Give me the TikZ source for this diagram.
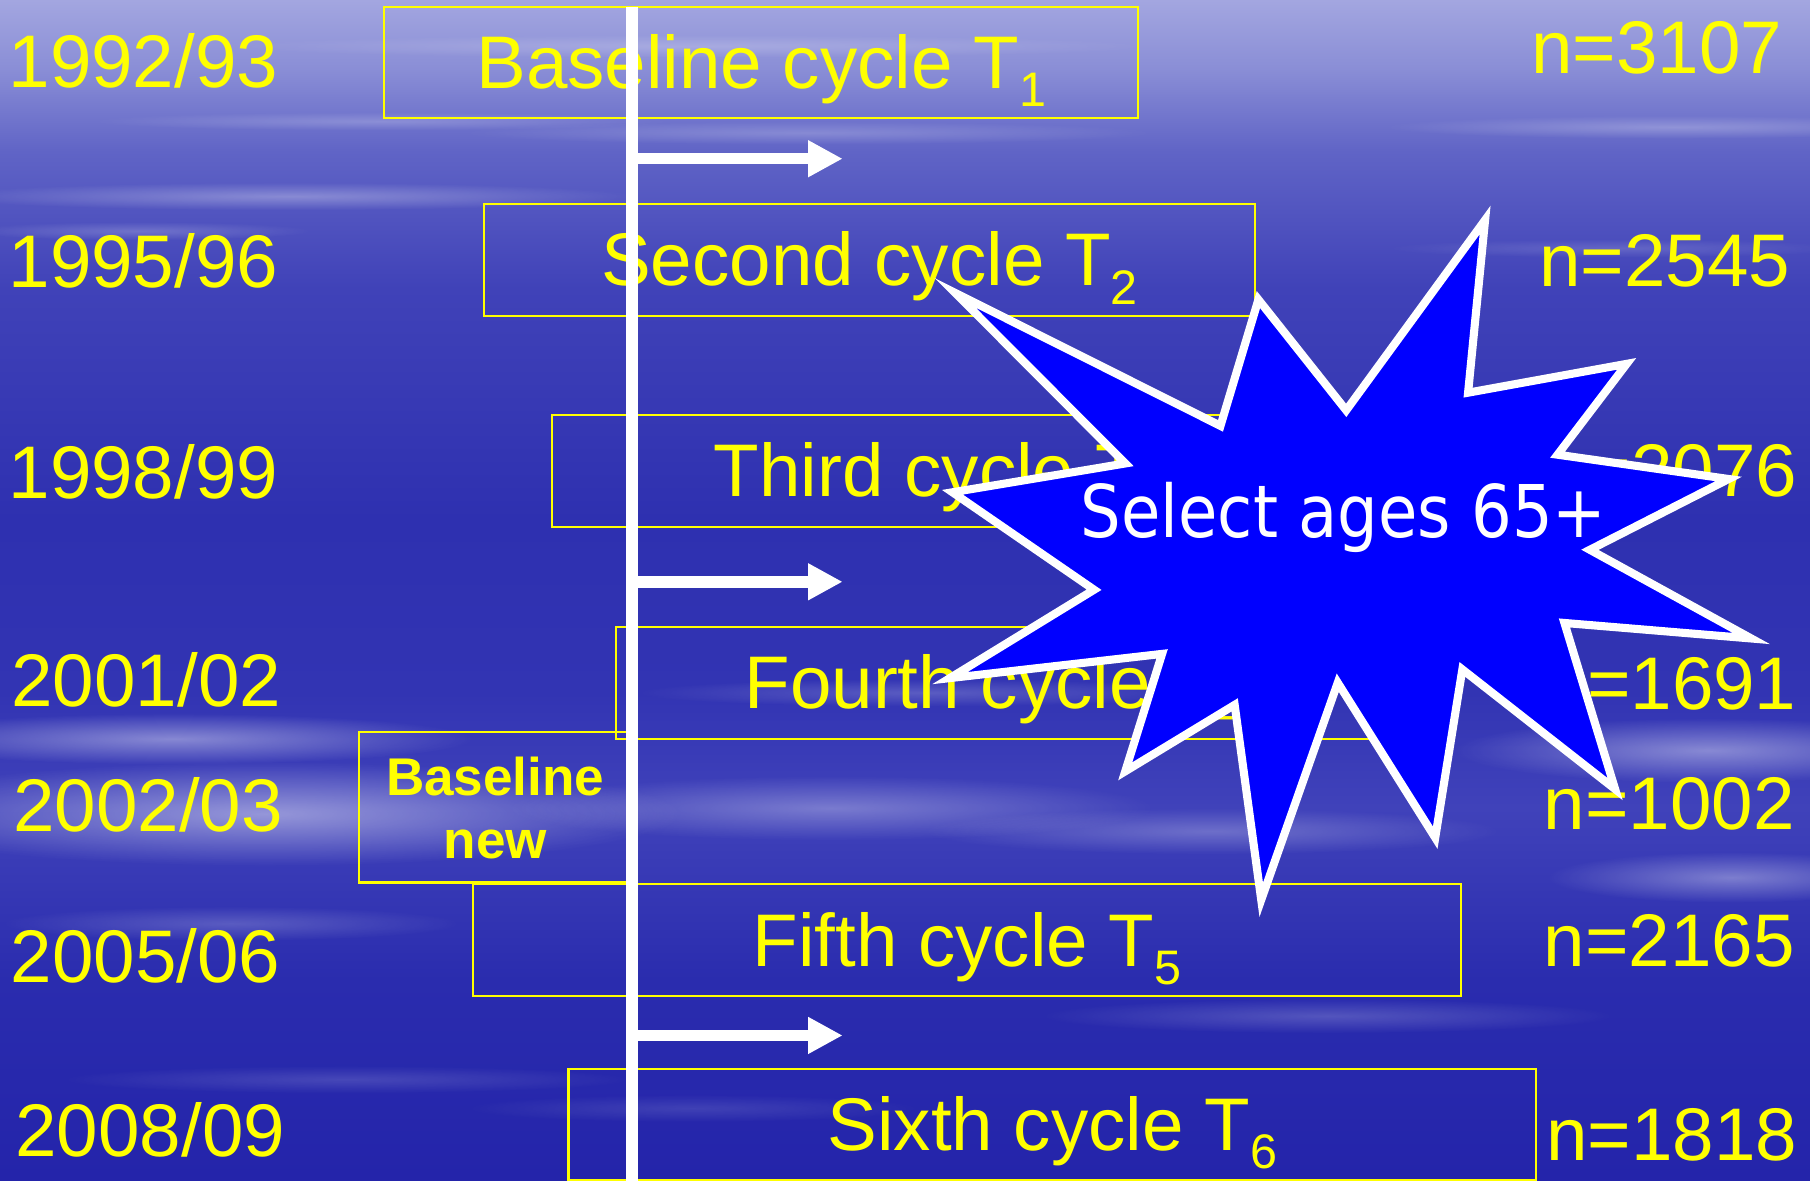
\documentclass[tikz,border=0pt]{standalone}
\usepackage{fontspec}
\setmainfont{Liberation Sans}
\newfontfamily\starfont{DejaVu Sans}
\usetikzlibrary{arrows.meta,fit,fadings}
\definecolor{bg0}{HTML}{A3A6E0}
\definecolor{bg1}{HTML}{8A8ED6}
\definecolor{bg2}{HTML}{6064C6}
\definecolor{bg3}{HTML}{4042B8}
\definecolor{bg4}{HTML}{2E30B0}
\definecolor{bg5}{HTML}{3234B3}
\definecolor{bg6}{HTML}{4042BA}
\definecolor{bg7}{HTML}{2A2CAE}
\definecolor{bg8}{HTML}{2424AA}
\definecolor{ylw}{HTML}{FFFF00}
\definecolor{starblue}{HTML}{0000FF}
\pgfdeclareverticalshading{bgshade}{100bp}{color(0bp)=(bg8); color(25bp)=(bg8); color(33.5bp)=(bg7); color(40.8bp)=(bg6); color(45.7bp)=(bg5); color(53bp)=(bg4); color(62.8bp)=(bg3); color(68.6bp)=(bg2); color(72.1bp)=(bg1); color(75bp)=(bg0); color(100bp)=(bg0)}
\tikzfading[name=streakfade, inner color=transparent!0, outer color=transparent!100]
\newcommand\cycsub[1]{\raisebox{-7.9pt}{\fontsize{21}{21}\selectfont #1}}
\begin{document}
\begin{tikzpicture}[x=0.5pt,y=-0.5pt,
  bigtext/.style={text=ylw, font=\fontsize{32.3}{38}\selectfont, inner sep=0pt},
  yearlbl/.style={bigtext, anchor=base west},
  nlbl/.style={bigtext, anchor=base west},
  cyclebox/.style={draw=ylw, line width=0.9pt, inner sep=0pt},
  cyclelbl/.style={bigtext, anchor=base},
  newlbl/.style={text=ylw, font=\fontsize{23}{27}\selectfont\bfseries, inner sep=0pt, anchor=base},
  timeline/.style={white, line width=5pt},
  steparrow/.style={white, line width=5pt, -{Triangle[length=15pt,width=15pt]}},
  streak/.style={white, path fading=streakfade},
  burst/.style={draw=white, fill=starblue, line width=3.5pt, line join=miter},
  burstlbl/.style={text=white, font=\starfont\fontsize{31.5}{36}\selectfont, inner sep=0pt, anchor=base}
]
\useasboundingbox (0,0) rectangle (1568,1023);
% background
\shade[shading=bgshade] (0,0) rectangle (1568,1023);
\fill[streak, opacity=0.30] (250,170) ellipse [x radius=300, y radius=12];
\fill[streak, opacity=0.20] (330,105) ellipse [x radius=250, y radius=8];
\fill[streak, opacity=0.20] (700,115) ellipse [x radius=300, y radius=10];
\fill[streak, opacity=0.25] (1450,110) ellipse [x radius=250, y radius=10];
\fill[streak, opacity=0.15] (1400,215) ellipse [x radius=200, y radius=8];
\fill[streak, opacity=0.20] (120,200) ellipse [x radius=150, y radius=8];
\fill[streak, opacity=0.20] (600,40) ellipse [x radius=400, y radius=10];
\fill[streak, opacity=0.40] (150,640) ellipse [x radius=260, y radius=22];
\fill[streak, opacity=0.45] (230,705) ellipse [x radius=360, y radius=45];
\fill[streak, opacity=0.30] (720,700) ellipse [x radius=280, y radius=28];
\fill[streak, opacity=0.25] (1050,720) ellipse [x radius=250, y radius=20];
\fill[streak, opacity=0.40] (1480,650) ellipse [x radius=220, y radius=28];
\fill[streak, opacity=0.35] (1500,760) ellipse [x radius=160, y radius=22];
\fill[streak, opacity=0.20] (200,800) ellipse [x radius=200, y radius=15];
\fill[streak, opacity=0.20] (800,600) ellipse [x radius=250, y radius=12];
\fill[streak, opacity=0.20] (1150,880) ellipse [x radius=250, y radius=15];
\fill[streak, opacity=0.15] (300,935) ellipse [x radius=250, y radius=12];
\fill[streak, opacity=0.12] (600,960) ellipse [x radius=200, y radius=12];
% years
\node[yearlbl] (y1) at (7,76) {1992/93};
\node[yearlbl] (y2) at (7,249) {1995/96};
\node[yearlbl] (y3) at (7,432) {1998/99};
\node[yearlbl] (y4) at (9.5,612) {2001/02};
\node[yearlbl] (y5) at (11,720.5) {2002/03};
\node[yearlbl] (y6) at (9,851) {2005/06};
\node[yearlbl] (y7) at (13,1001.5) {2008/09};
% sample sizes
\node[nlbl] (n1) at (1326,64) {n=3107};
\node[nlbl] (n2) at (1333,248) {n=2545};
\node[nlbl] (n3) at (1339,430.3) {n=2076};
\node[nlbl] (n4) at (1338.5,614.7) {n=1691};
\node[nlbl] (n5) at (1337,718.6) {n=1002};
\node[nlbl] (n6) at (1337,837) {n=2165};
\node[nlbl] (n7) at (1339,1005) {n=1818};
% cycle boxes
\node[cyclebox, fit={(333,5.8) (986,102.5)}] (b1) {};
\node[cyclebox, fit={(419.5,176.7) (1087,273.5)}] (b2) {};
\node[cyclebox, fit={(478,359.5) (1152,456.3)}] (b3) {};
\node[cyclebox, fit={(533.7,543) (1189,640)}] (b4) {};
\node[cyclebox, fit={(410,765.8) (1265.5,862.9)}] (b5) {};
\node[cyclebox, fit={(492.5,926) (1330.7,1022)}] (b6) {};
\node[cyclebox, fit={(311.3,634.5) (547,764.5)}] (bn) {};
\node[cyclelbl] (t1) at ([yshift=-11.3pt]b1.center) {Baseline cycle T\cycsub{1}};
\node[cyclelbl] (t2) at ([yshift=-11.3pt]b2.center) {Second cycle T\cycsub{2}};
\node[cyclelbl] (t3) at ([yshift=-11.3pt]b3.center) {Third cycle T\cycsub{3}};
\node[cyclelbl] (t4) at ([yshift=-11.3pt]b4.center) {Fourth cycle T\cycsub{4}};
\node[cyclelbl] (t5) at ([yshift=-11.3pt]b5.center) {Fifth cycle T\cycsub{5}};
\node[cyclelbl] (t6) at ([yshift=-11.3pt]b6.center) {Sixth cycle T\cycsub{6}};
\node[newlbl] (bnt1) at (429,688.7) {Baseline};
\node[newlbl] (bnt2) at (429,743.5) {new};
% timeline and arrows
\coordinate (ltop) at (547.4,5.8);
\coordinate (lbot) at (547.4,1023);
\draw[timeline] (ltop) -- (lbot);
\coordinate (a1s) at (547.4,137.5);
\coordinate (a1e) at (730,137.5);
\coordinate (a2s) at (547.4,504);
\coordinate (a2e) at (730,504);
\coordinate (a3s) at (547.4,897);
\coordinate (a3e) at (730,897);
\draw[steparrow] (a1s) -- (a1e);
\draw[steparrow] (a2s) -- (a2e);
\draw[steparrow] (a3s) -- (a3e);
% burst
\begin{scope}[shift={(1170,487)}, scale=0.975, shift={(-1170,-487)}]
\draw[burst] (1289.5,183) -- (1274.4,336.4) -- (1415.3,310.8) -- (1353.9,391.5)
  -- (1505.9,413.1) -- (1382.6,476) -- (1526,554.8) -- (1360,541)
  -- (1405,688.6) -- (1269.3,582.3) -- (1245.2,731.8) -- (1158.6,594.1)
  -- (1090.6,787) -- (1067,613.8) -- (969.8,672.8) -- (1002.5,568.5)
  -- (814,590) -- (942.1,511.5) -- (816.3,424.9) -- (969.8,399.3)
  -- (818.8,247.8) -- (1054.4,365.9) -- (1088.1,253.7) -- (1166.1,352.1) -- cycle;
\end{scope}
\node[burstlbl] (sel) at (1164,466) {\scalebox{0.88}[1]{Select ages 65+}};
\end{tikzpicture}
\end{document}
